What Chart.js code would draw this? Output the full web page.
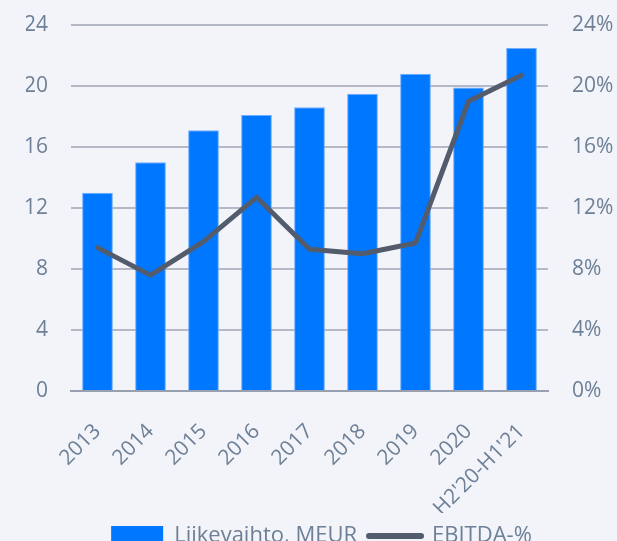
<!DOCTYPE html>
<html lang="fi">
<head>
  <meta charset="UTF-8">
  <title>Liikevaihto ja EBITDA-%</title>
  <script src="https://cdn.jsdelivr.net/npm/chart.js"></script>
  <style>
    html, body { margin: 0; padding: 0; background: #f3f4f9; overflow: hidden; }
    #wrap { width: 617px; height: 557px; }
  </style>
</head>
<body>
  <div id="wrap"><canvas id="myChart" width="617" height="557"></canvas></div>

  <script>
    // Tiedot kuvasta
    const vuodet = ['2013', '2014', '2015', '2016', '2017', '2018', '2019', '2020', "H2'20-H1'21"];
    const liikevaihto = [13.0, 15.0, 17.1, 18.1, 18.6, 19.5, 20.8, 19.9, 22.5];
    const ebitdaPros = [9.4, 7.6, 9.8, 12.7, 9.3, 9.0, 9.7, 19.0, 20.7];
    const vasenTicks = [0, 4, 8, 12, 16, 20, 24];

    const tekstiVari = '#6d8097';
    const fontti = { family: 'Open Sans', size: 21 };

    const ctx = document.getElementById('myChart').getContext('2d');
    const myChart = new Chart(ctx, {
      type: 'bar',
      data: {
        labels: vuodet,
        datasets: [{
          label: 'Liikevaihto, MEUR',
          data: liikevaihto,
          backgroundColor: '#0077ff',
          borderColor: '#72aefc',
          borderWidth: 1,
          barPercentage: 0.58,
          categoryPercentage: 1,
          yAxisID: 'y',
          order: 1
        }, {
          type: 'line',
          label: 'EBITDA-%',
          data: ebitdaPros,
          borderColor: '#535c6d',
          backgroundColor: '#535c6d',
          borderWidth: 5,
          borderCapStyle: 'round',
          borderJoinStyle: 'round',
          pointRadius: 0,
          tension: 0,
          yAxisID: 'y1',
          order: 0
        }]
      },
      options: {
        responsive: false,
        animation: false,
        layout: { padding: { top: 25, left: 26 } },
        plugins: {
          tooltip: { enabled: false },
          legend: {
            position: 'bottom',
            labels: {
              color: tekstiVari,
              font: { family: 'Open Sans', size: 22 },
              usePointStyle: true,
              pointStyleWidth: 52,
              boxHeight: 20,
              padding: 12,
              generateLabels(chart) {
                const items = Chart.defaults.plugins.legend.labels.generateLabels(chart);
                items.sort((a, b) => a.datasetIndex - b.datasetIndex);
                items.forEach(it => {
                  if (it.datasetIndex === 0) {
                    it.pointStyle = 'rect';
                    it.lineWidth = 0;
                  } else {
                    it.pointStyle = 'line';
                    it.lineWidth = 6;
                    it.lineCap = 'round';
                  }
                });
                return items;
              }
            }
          }
        },
        scales: {
          x: {
            grid: { display: false },
            border: { color: '#98a0b0', width: 2 },
            ticks: {
              color: tekstiVari,
              font: fontti,
              minRotation: 45,
              maxRotation: 45,
              padding: 20
            },
            afterFit(scale) { scale.height = 122; }
          },
          y: {
            position: 'left',
            min: 0,
            max: 24,
            afterBuildTicks(scale) { scale.ticks = vasenTicks.map(v => ({ value: v })); },
            grid: { color: '#b5b9c7', lineWidth: 2, tickColor: 'transparent', tickLength: 20 },
            border: { display: false },
            ticks: { color: tekstiVari, font: fontti, padding: 3 },
            afterFit(scale) { scale.width = 45; }
          },
          y1: {
            position: 'right',
            min: 0,
            max: 24,
            afterBuildTicks(scale) { scale.ticks = vasenTicks.map(v => ({ value: v })); },
            grid: { display: false, tickLength: 21 },
            border: { display: false },
            ticks: {
              color: tekstiVari,
              font: fontti,
              padding: 3,
              callback: v => v + '%'
            },
            afterFit(scale) { scale.width = 69; }
          }
        }
      }
    });
  </script>
</body>
</html>
